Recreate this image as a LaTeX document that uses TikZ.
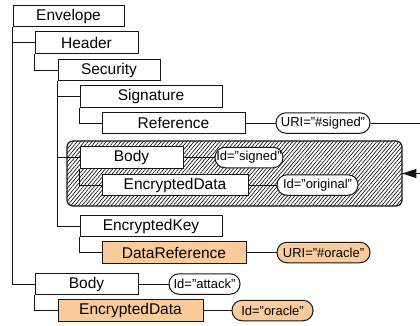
\documentclass[tikz,border=0pt]{standalone}
\usepackage{fontspec}
\setmainfont{Liberation Sans}
\usetikzlibrary{arrows.meta,patterns.meta}
\definecolor{orfill}{RGB}{251,203,153}
\definecolor{lnc}{RGB}{20,20,20}
\begin{document}
\begin{tikzpicture}[x=1pt,y=-1pt,
  elbox/.style={draw=lnc,line width=1pt,fill=white,inner sep=0pt,minimum height=21.5pt,
     font=\fontsize{15.5}{18}\selectfont},
  hot/.style={fill=orfill},
  pill/.style={draw=lnc,line width=1pt,fill=white,inner sep=0pt,minimum height=20.5pt,
     rounded corners=10pt,font=\fontsize{13}{15}\selectfont},
  hatchbox/.style={draw=lnc,line width=1.2pt,rounded corners=6pt,inner sep=0pt,
     pattern={Lines[angle=50,distance=2.8pt,line width=0.6pt]}},
  conn/.style={draw=lnc,line width=0.9pt}]
\useasboundingbox (0,0) rectangle (420,325);
% hatched region
\node[hatchbox,minimum width=335pt,minimum height=65pt] (hatch) at (234.5,173.5) {};
% element boxes
\node[elbox,minimum width=111pt] (env) at (68.5,16) {Envelope};
\node[elbox,minimum width=103pt] (hdr) at (86.5,42.5) {Header};
\node[elbox,minimum width=102pt] (sec) at (109,70) {Security};
\node[elbox,minimum width=142pt] (sig) at (151,96.5) {Signature};
\node[elbox,minimum width=143pt] (ref) at (173.5,123) {Reference};
\node[elbox,minimum width=103pt] (bodyA) at (131.5,157.5) {Body};
\node[elbox,minimum width=146pt] (encA) at (175,185) {EncryptedData};
\node[elbox,minimum width=142pt] (ekey) at (151,226) {EncryptedKey};
\node[elbox,hot,minimum width=144pt] (dref) at (174,252.5) {DataReference};
\node[elbox,minimum width=103pt] (bodyB) at (86.5,284) {Body};
\node[elbox,hot,minimum width=145pt] (encB) at (130.5,310.5) {EncryptedData};
% attribute pills
\node[pill,minimum width=94pt] (urisig) at (323,123) {URI="\#signed"};
\node[pill,minimum width=68pt] (idsig) at (249,157.5) {Id="signed"};
\node[pill,minimum width=81pt] (idorig) at (317.5,185) {Id="original"};
\node[pill,hot,minimum width=93pt] (uriora) at (323.5,252.5) {URI="\#oracle"};
\node[pill,minimum width=71pt] (idatt) at (204.5,284) {Id="attack"};
\node[pill,hot,minimum width=81pt] (idora) at (272.5,310.5) {Id="oracle"};
% tree connectors
\draw[conn] (env.south west) |- (bodyB.west);
\draw[conn] (env.south west |- hdr.west) -- (hdr.west);
\draw[conn] (hdr.south west) |- (sec.west);
\draw[conn] (sec.south west) |- (ekey.west);
\draw[conn] (sec.south west |- sig.west) -- (sig.west);
\draw[conn] (sec.south west |- bodyA.west) -- (bodyA.west);
\draw[conn] (sig.south west) |- (ref.west);
\draw[conn] (bodyA.south west) |- (encA.west);
\draw[conn] (ekey.south west) |- (dref.west);
\draw[conn] (bodyB.south west) |- (encB.west);
% attribute connectors
\draw[conn] (ref.east) -- (urisig.west);
\draw[conn] (bodyA.east) -- (idsig.west);
\draw[conn] (encA.east) -- (idorig.west);
\draw[conn] (dref.east) -- (uriora.west);
\draw[conn] (bodyB.east) -- (idatt.west);
\draw[conn] (encB.east) -- (idora.west);
% reference arrow
\coordinate (rt) at (426,123);
\coordinate (rb) at (426,173.5);
\draw[conn,-{Triangle[length=14pt,width=9pt]}] (urisig.east) -- (rt) -- (rb) -- (hatch.east);
\end{tikzpicture}
\end{document}
